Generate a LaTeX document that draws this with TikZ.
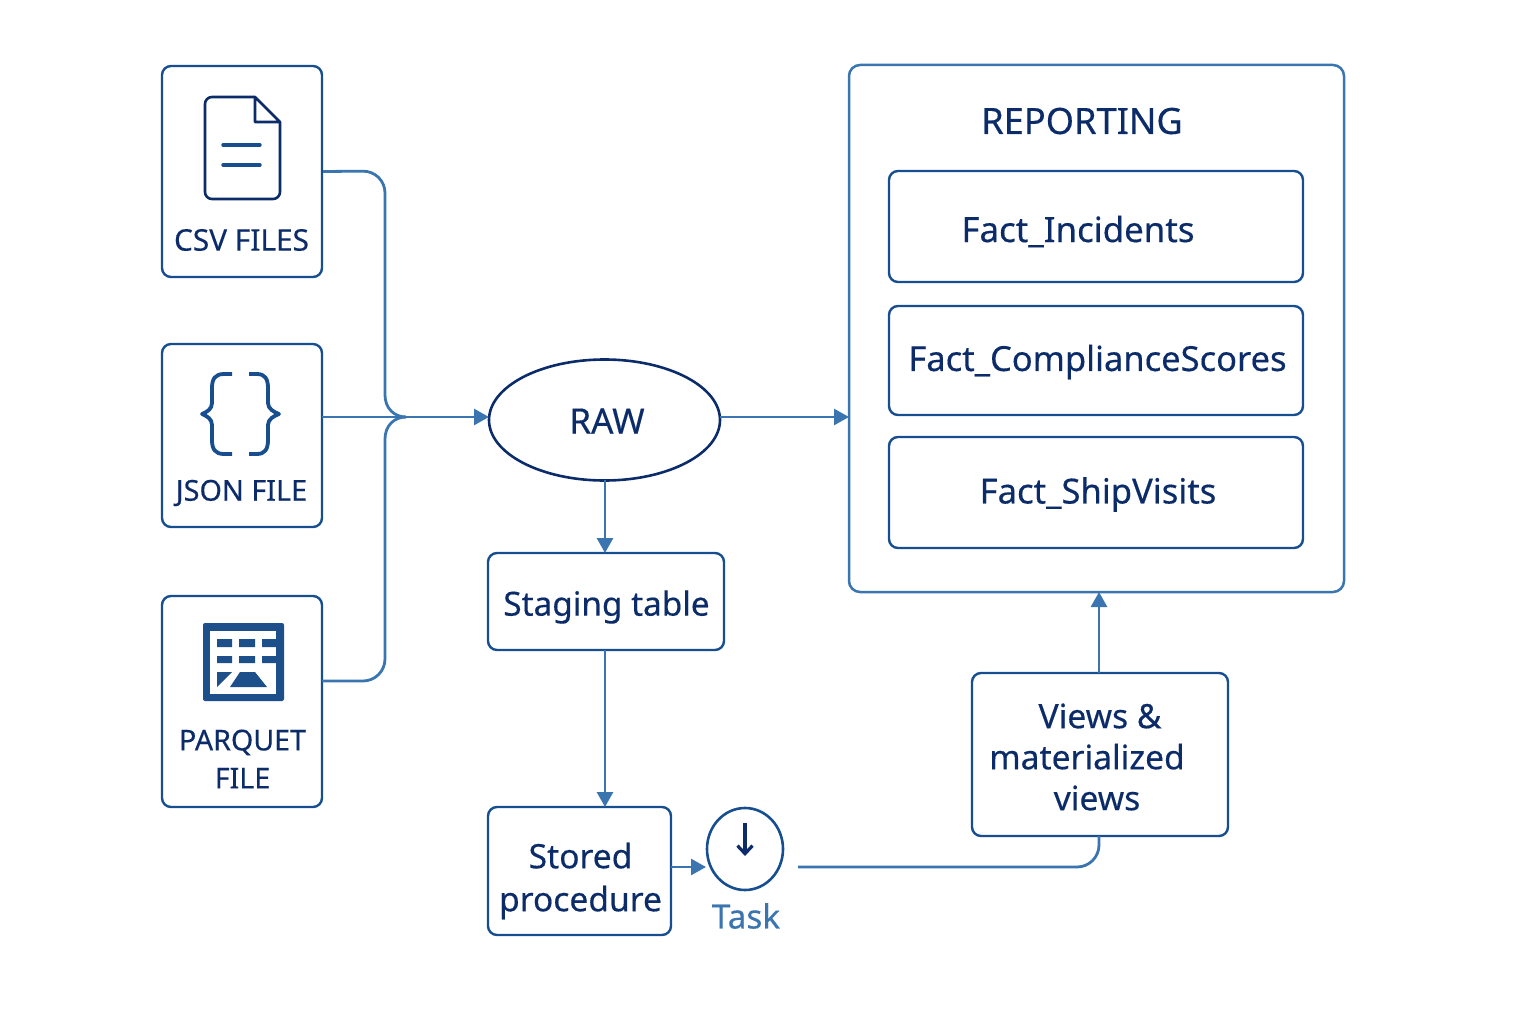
\documentclass[tikz,border=0pt]{standalone}
\usepackage{fontspec}
\setmainfont[FakeBold=0.35]{Noto Sans}
\usetikzlibrary{arrows.meta,shapes.geometric,calc}
\definecolor{navy}{HTML}{0B2C69}
\definecolor{edge}{HTML}{174E8F}
\definecolor{wire}{HTML}{3A75B0}
\definecolor{iconfill}{HTML}{1D4F8A}
\tikzset{
  x=1pt,y=-1pt,
  box/.style={draw=edge,line width=2.4pt,rounded corners=9pt,inner sep=0pt,fill=white},
  outerbox/.style={draw=wire,line width=2.5pt,rounded corners=11pt,inner sep=0pt},
  label/.style={text=navy,inner sep=0pt,align=center},
  srclabel/.style={label,font=\fontsize{28.5}{38}\selectfont},
  mainlabel/.style={label,font=\fontsize{34.3}{41}\selectfont},
  wireline/.style={draw=wire,line width=2.8pt},
  wirearrow/.style={wireline,-{Triangle[length=15pt,width=16pt]}},
  icon/.style={draw=navy,line width=2.6pt,line join=round},
}
\begin{document}
\begin{tikzpicture}
\useasboundingbox (0,0) rectangle (1536,1024);
% sources
\node[box,minimum width=160pt,minimum height=211pt] (csv) at (242,171.5) {};
\node[box,minimum width=160pt,minimum height=183pt] (json) at (242,435.5) {};
\node[box,minimum width=160pt,minimum height=211pt] (parquet) at (242,701.5) {};
\node[srclabel,font=\fontsize{29.8}{38}\selectfont] (csvt) at (241.5,240) {CSV FILES};
\node[srclabel,font=\fontsize{28.8}{38}\selectfont] (jsont) at (241.5,493) {JSON FILE};
\node[srclabel,font=\fontsize{28.6}{38}\selectfont] (parquett) at (242.5,759) {PARQUET\\FILE};
% doc icon
\draw[icon,rounded corners=7pt] (255,97) -- (205,97) -- (205,199) -- (280,199) -- (280,122);
\draw[icon] (255,97) -- (280,122) -- (255,122) -- cycle;
\draw[icon,line cap=round,line width=3.4pt,draw=edge] (223,145) -- (260,145) (223,165) -- (260,165);
% braces
\draw[icon,line width=3.8pt,draw=edge] (232,374) -- (224,374) .. controls (215,374) and (212,379) .. (212,388) -- (212,403) .. controls (212,409) and (207,412) .. (202,414) .. controls (207,416) and (212,419) .. (212,425) -- (212,440) .. controls (212,449) and (215,454) .. (224,454) -- (232,454);
\draw[icon,line width=3.8pt,draw=edge] (249,374) -- (257,374) .. controls (265,374) and (268,379) .. (268,388) -- (268,403) .. controls (268,409) and (274,412) .. (279,414) .. controls (274,416) and (268,419) .. (268,425) -- (268,440) .. controls (268,449) and (265,454) .. (257,454) -- (249,454);
% parquet icon
\fill[iconfill,rounded corners=2pt] (203,623) rectangle (284,701);
\fill[white] (210,631) rectangle (276,694);
\fill[iconfill] (217,639) rectangle (232,647) (239,639) rectangle (255,647) (262,639) rectangle (276,647)
  (217,656) rectangle (232,663) (239,656) rectangle (255,663) (262,656) rectangle (276,663);
\fill[iconfill] (217,672) -- (232,672) -- (217,687) -- cycle;
\fill[iconfill] (240,672) -- (255,672) -- (267,687) -- (230,687) -- cycle;
% centre
\node[ellipse,draw=navy,line width=2.6pt,minimum width=231pt,minimum height=121pt,inner sep=0pt] (raw) at (604.5,420) {};
\node[mainlabel,font=\fontsize{35}{41}\selectfont] (rawt) at (607,421) {RAW};
\node[box,minimum width=236pt,minimum height=97pt] (staging) at (606,601.5) {};
\node[mainlabel,font=\fontsize{33.3}{41}\selectfont] (stagingt) at (606.5,607) {Staging table};
\node[box,minimum width=183pt,minimum height=128pt] (stored) at (579.5,871) {};
\node[mainlabel,font=\fontsize{33.6}{43}\selectfont] (storedt) at (580.5,881) {Stored\\procedure};
\node[ellipse,draw=edge,line width=2.6pt,minimum width=76pt,minimum height=82pt,inner sep=0pt] (clock) at (745,849) {};
\coordinate (handtop) at (745,823);
\coordinate (handtip) at (745,856);
\draw[draw=navy,line width=3.2pt,-{Straight Barb[length=8pt,width=15pt]}] (handtop) -- (handtip);
\node[label,text=wire,font=\fontsize{33.3}{41}\selectfont] (taskt) at (746,916) {Task};
% reporting
\node[outerbox,minimum width=495pt,minimum height=527pt] (reporting) at (1096.5,328.5) {};
\node[mainlabel,font=\fontsize{36.2}{41}\selectfont] (reportingt) at (1082,121) {REPORTING};
\node[box,minimum width=414pt,minimum height=111pt] (f1) at (1096,226.5) {};
\node[box,minimum width=414pt,minimum height=109pt] (f2) at (1096,360.5) {};
\node[box,minimum width=414pt,minimum height=111pt] (f3) at (1096,492.5) {};
\node[mainlabel,font=\fontsize{34.8}{41}\selectfont] (f1t) at (1078,231.5) {Fact\_Incidents};
\node[mainlabel,font=\fontsize{34.5}{41}\selectfont] (f2t) at (1097.5,362) {Fact\_ComplianceScores};
\node[mainlabel,font=\fontsize{34.6}{41}\selectfont] (f3t) at (1098,494.5) {Fact\_ShipVisits};
\node[box,minimum width=256pt,minimum height=163pt] (views) at (1100,754.5) {};
\node[mainlabel,font=\fontsize{33.6}{41}\selectfont] (viewst) at (1087,757) {\hspace*{26pt}Views \&\\materialized\\\hspace*{20pt}views};
% connectors
\coordinate (jsonout) at (322,417);
\coordinate (rawin) at (489,417);
\coordinate (csvbend) at (385,171);
\coordinate (busa) at (385,395);
\coordinate (busb) at (385,439);
\coordinate (merge) at (406,417);
\coordinate (parqout) at (322,681);
\coordinate (parqbend) at (385,681);
\draw[wireline,rounded corners=22pt] (csv.east) -- (csvbend) -- (busa);
\draw[wireline] (busa) .. controls (385,408) and (394,417) .. (merge);
\draw[wireline,rounded corners=22pt] (parqout) -- (parqbend) -- (busb);
\draw[wireline] (busb) .. controls (385,426) and (394,417) .. (merge);
\draw[wirearrow] (jsonout) -- (rawin);
\coordinate (rawout) at (720,417);
\coordinate (repin) at (849,417);
\draw[wirearrow] (rawout) -- (repin);
\coordinate (a1) at (605,480);
\coordinate (a2) at (605,553);
\draw[wirearrow] (a1) -- (a2);
\coordinate (b1) at (605,650);
\coordinate (b2) at (605,807);
\draw[wirearrow] (b1) -- (b2);
\coordinate (c1) at (671,867);
\coordinate (c2) at (706,867);
\draw[wirearrow] (c1) -- (c2);
\coordinate (d1) at (798,867);
\coordinate (d2) at (1099,867);
\coordinate (d3) at (1099,836);
\draw[wireline,rounded corners=22pt] (d1) -- (d2) -- (d3);
\coordinate (e1) at (1099,673);
\coordinate (e2) at (1099,592);
\draw[wirearrow] (e1) -- (e2);
\end{tikzpicture}
\end{document}
